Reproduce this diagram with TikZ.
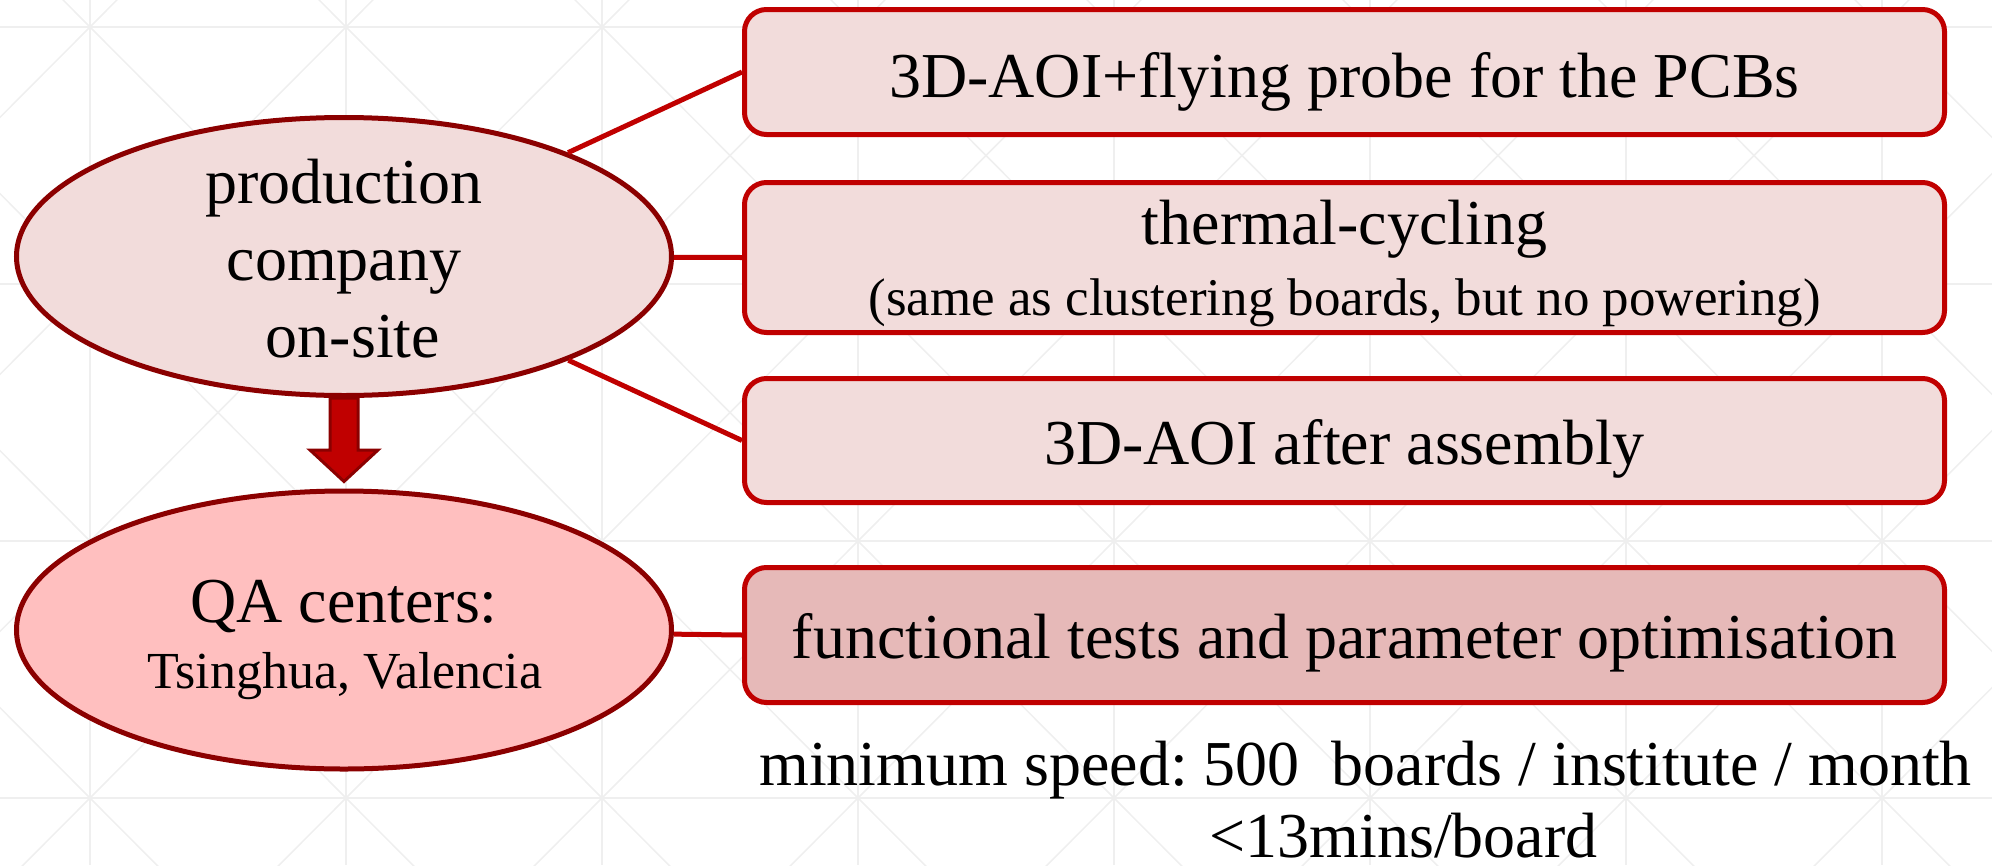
\documentclass[tikz,border=0pt]{standalone}
\usepackage{fontspec}
\setmainfont{Liberation Serif}
\usetikzlibrary{shapes.geometric,calc}
\definecolor{boxfill}{HTML}{F2DCDB}
\definecolor{boxline}{HTML}{C00000}
\definecolor{ellline}{HTML}{8B0000}
\definecolor{qafill}{HTML}{FFBFBF}
\definecolor{funcfill}{HTML}{E6B9B8}
\definecolor{gridc}{HTML}{EFEFEF}
\frenchspacing
\begin{document}
\begin{tikzpicture}[x=1pt,y=-1pt,
  bigfont/.style={font=\fontsize{64}{77}\selectfont},
  smallfont/.style={font=\fontsize{53}{64}\selectfont},
  txt/.style={anchor=base, inner sep=0pt, text=black},
  stage/.style={draw=boxline, line width=5pt, fill=boxfill, rounded corners=22pt, minimum width=1200pt, inner sep=0pt},
  site/.style={ellipse, draw=ellline, line width=5pt, minimum width=655pt, minimum height=278pt, inner sep=0pt},
  link/.style={draw=boxline, line width=5pt},
  gridline/.style={draw=gridc, line width=1.5pt},
  downarrow/.style={draw=ellline, fill=boxline, line width=3pt, line join=miter}]
\useasboundingbox (0,0) rectangle (1992,865);
% faint background pattern
\begin{scope}
\clip (0,0) rectangle (1992,865);
\foreach \i in {-1,...,7} {
  \foreach \j in {-1,...,3} {
    \draw[gridline] ({90+256*\i},{27+257*\j}) -- ++(256,257);
    \draw[gridline] ({346+256*\i},{27+257*\j}) -- ++(-256,257);
  }
}
\foreach \i in {0,...,7} \draw[gridline] ({90+256*\i},0) -- ({90+256*\i},865);
\foreach \j in {0,...,3} \draw[gridline] (0,{27+257*\j}) -- (1992,{27+257*\j});
\end{scope}
% nodes
\node[site, fill=boxfill] (e1) at (344,256.5) {};
\node[site, fill=qafill] (e2) at (344,630) {};
\node[stage, minimum height=125pt] (b1) at (1344.5,72) {};
\node[stage, minimum height=150pt] (b2) at (1344.5,257.5) {};
\node[stage, minimum height=124pt] (b3) at (1344.5,440.5) {};
\node[stage, minimum height=135pt, fill=funcfill] (b4) at (1344.5,635) {};
% connectors
\draw[link] (e1) -- (b1.west);
\draw[link] (e1) -- (b2.west);
\draw[link] (e1) -- (b3.west);
\draw[link] (e2) -- (b4.west);
% block arrow
\draw[downarrow] ($(e1.south)+(-14,0)$) -- ($(e1.south)+(-14,52)$) -- ($(e1.south)+(-34,52)$)
  -- ($(e2.north)+(0,-7)$) -- ($(e1.south)+(34,52)$) -- ($(e1.south)+(14,52)$)
  -- ($(e1.south)+(14,0)$) -- cycle;
% texts
\node[txt,bigfont] (t1a) at (344,203) {production};
\node[txt,bigfont] (t1b) at (344,280) {company};
\node[txt,bigfont] (t1c) at (353,357) {on-site};
\node[txt,bigfont] (t2a) at (344,622) {QA centers:};
\node[txt,font=\fontsize{52}{62}\selectfont] (t2b) at (345,688) {Tsinghua, Valencia};
\node[txt,bigfont] (s1) at (1344.5,97) {3D-AOI+flying probe for the PCBs};
\node[txt,bigfont] (s2a) at (1344.5,244) {thermal-cycling};
\node[txt,smallfont] (s2b) at (1344.5,315) {(same as clustering boards, but no powering)};
\node[txt,bigfont] (s3) at (1344.5,464) {3D-AOI after assembly};
\node[txt,bigfont] (s4) at (1344.5,658) {functional tests and parameter optimisation};
\node[txt,bigfont] (n1) at (1365.5,785) {minimum speed: 500\ \ boards / institute / month};
\node[txt,bigfont] (n2) at (1403.5,857) {<13mins/board};
\end{tikzpicture}
\end{document}
